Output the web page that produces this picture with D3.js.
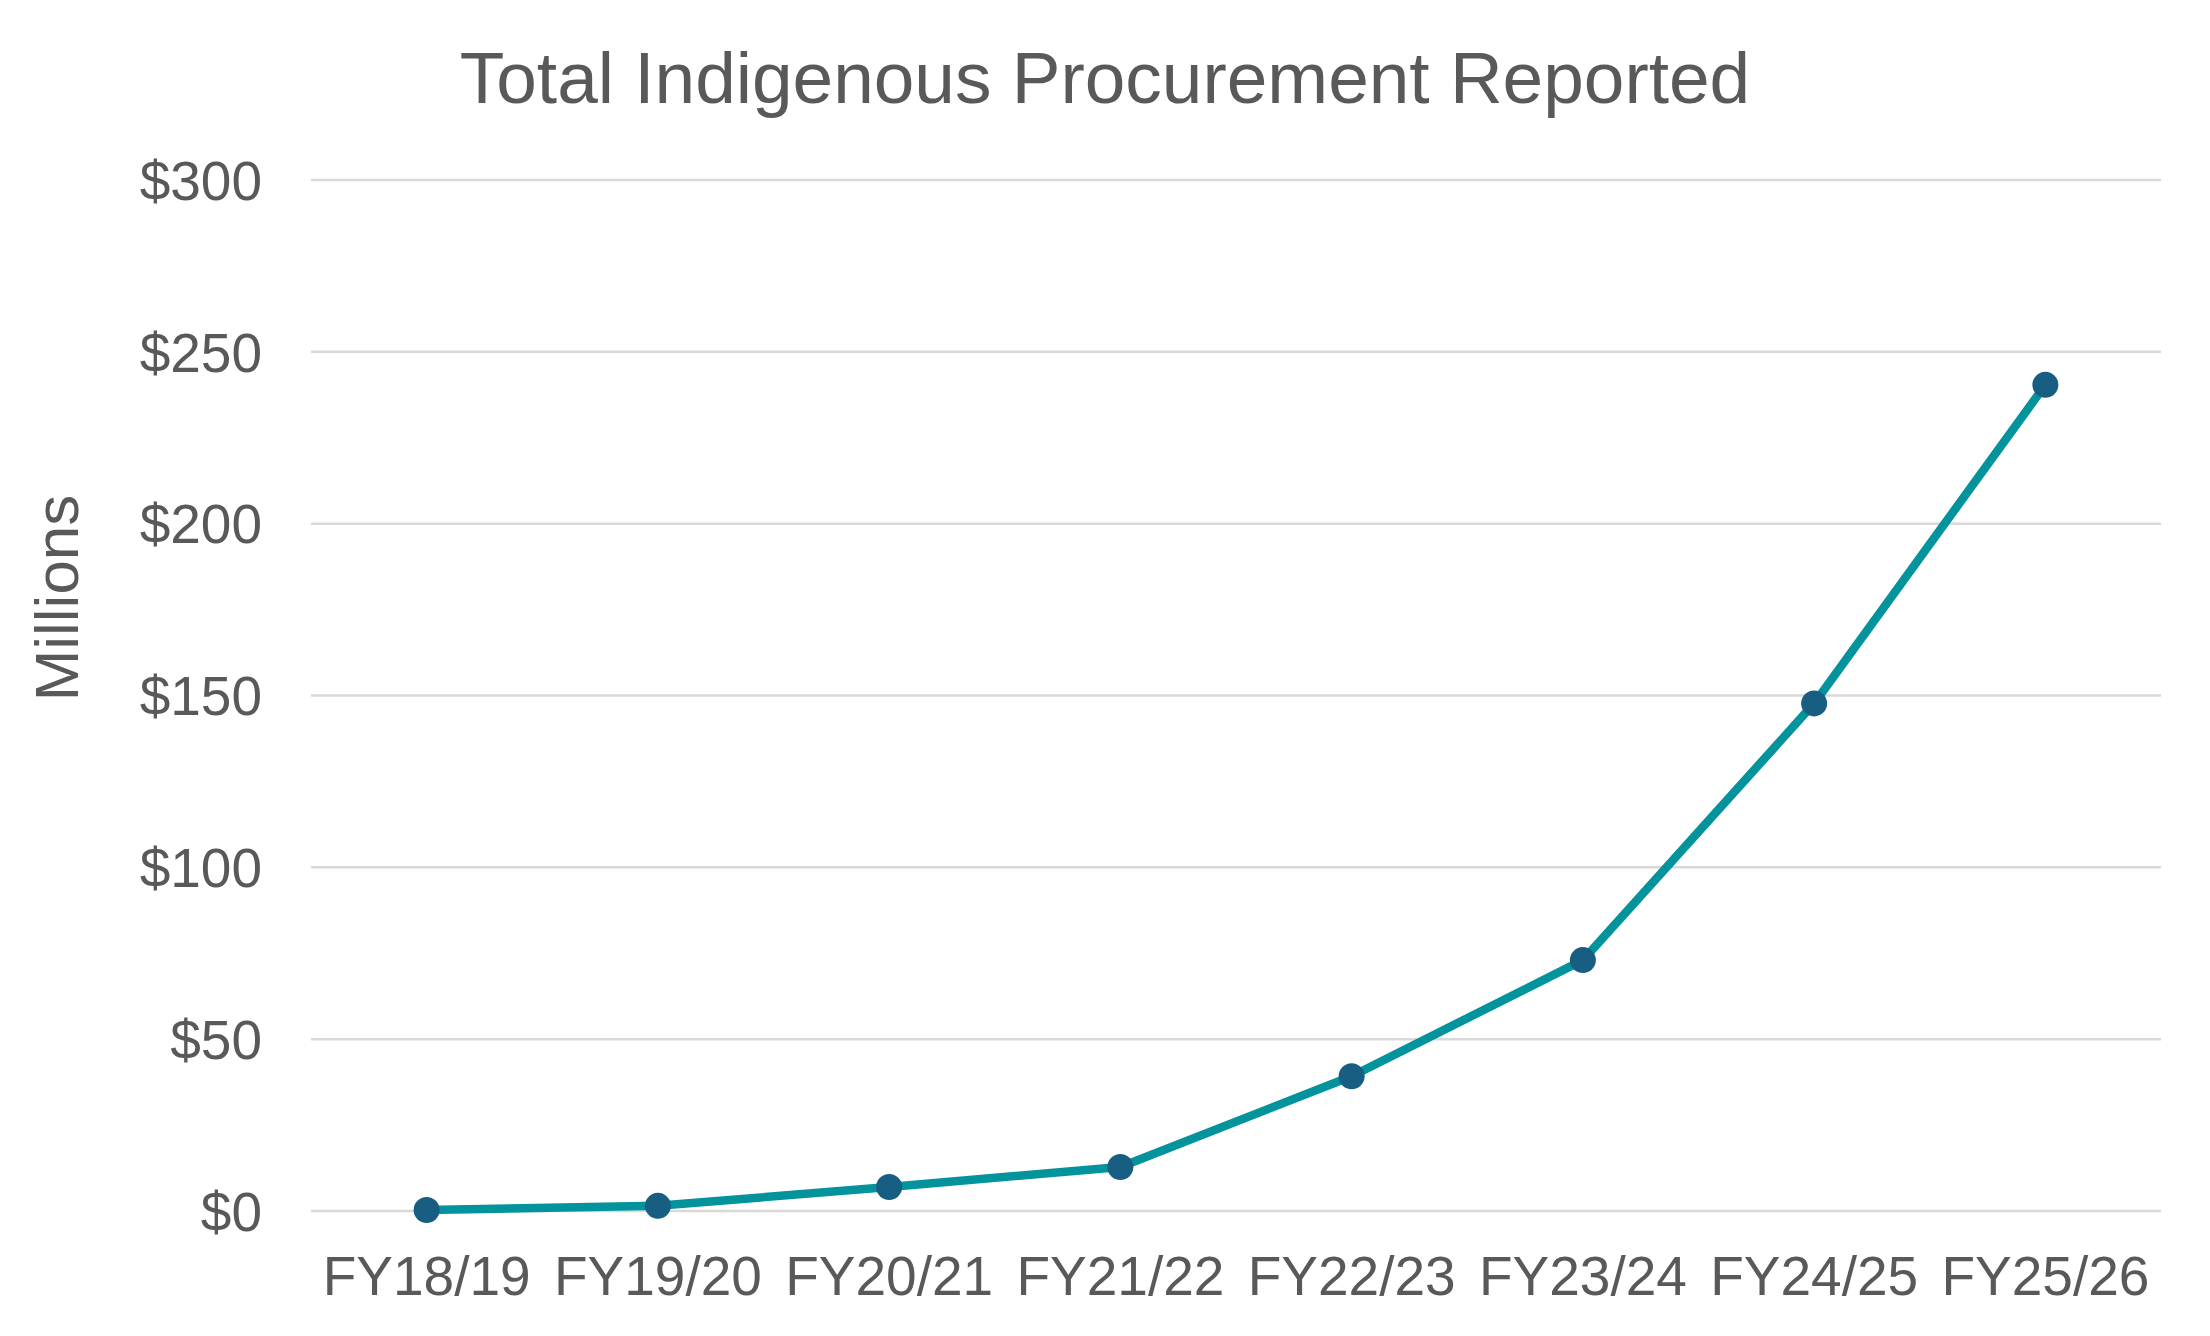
<!DOCTYPE html>
<html>
<head>
<meta charset="utf-8">
<script src="https://cdn.jsdelivr.net/npm/d3@7"></script>
<style>
  html, body { margin: 0; padding: 0; background: #ffffff; }
  svg { display: block; }
  text { font-family: "Liberation Sans", Arial, sans-serif; fill: #595959; }
</style>
</head>
<body>
<svg id="chart" width="2210" height="1336"></svg>
<script>
const categories = ["FY18/19", "FY19/20", "FY20/21", "FY21/22", "FY22/23", "FY23/24", "FY24/25", "FY25/26"];
const values = [0.3, 1.5, 7, 12.8, 39.2, 73, 147.7, 240.4];
const yTicks = [0, 50, 100, 150, 200, 250, 300];
const titleText = "Total Indigenous Procurement Reported";
const yAxisTitle = "Millions";

const W = 2210, H = 1336;
const margin = { left: 311, right: 49, top: 180, bottom: 125 };
const svg = d3.select("#chart");

const x = d3.scaleBand().domain(categories).range([margin.left, W - margin.right]);
const y = d3.scaleLinear().domain([0, 300]).range([H - margin.bottom, margin.top]);

// gridlines
svg.append("g")
  .selectAll("line")
  .data(yTicks)
  .join("line")
  .attr("x1", margin.left)
  .attr("x2", W - margin.right)
  .attr("y1", d => y(d))
  .attr("y2", d => y(d))
  .attr("stroke", "#d9d9d9")
  .attr("stroke-width", 2.5);

// y axis
const yAxis = svg.append("g")
  .attr("transform", `translate(${margin.left - 49},0)`)
  .call(d3.axisLeft(y).tickValues(yTicks).tickSize(0).tickPadding(0).tickFormat(d => "$" + d));
yAxis.select(".domain").remove();
yAxis.selectAll("text")
  .attr("font-size", 55)
  .attr("dy", "0.35em")
  .style("fill", "#595959")
  .style("font-family", '"Liberation Sans", Arial, sans-serif');

// x axis
const xAxis = svg.append("g")
  .attr("transform", `translate(0,${H - margin.bottom})`)
  .call(d3.axisBottom(x).tickSize(0).tickPadding(0));
xAxis.select(".domain").remove();
xAxis.selectAll("text")
  .attr("font-size", 55)
  .attr("y", 84)
  .attr("dy", 0)
  .style("fill", "#595959")
  .style("font-family", '"Liberation Sans", Arial, sans-serif');

// line
const cx = d => x(d) + x.bandwidth() / 2;
const line = d3.line()
  .x((d, i) => cx(categories[i]))
  .y(d => y(d));
svg.append("path")
  .datum(values)
  .attr("d", line)
  .attr("fill", "none")
  .attr("stroke", "#03939C")
  .attr("stroke-width", 8.5)
  .attr("stroke-linejoin", "round");

// markers
svg.append("g")
  .selectAll("circle")
  .data(values)
  .join("circle")
  .attr("cx", (d, i) => cx(categories[i]))
  .attr("cy", d => y(d))
  .attr("r", 13)
  .attr("fill", "#175E82");

// title
svg.append("text")
  .attr("x", W / 2)
  .attr("y", 103)
  .attr("text-anchor", "middle")
  .attr("font-size", 73)
  .text(titleText);

// y axis title
svg.append("text")
  .attr("transform", "translate(78,598) rotate(-90)")
  .attr("text-anchor", "middle")
  .attr("font-size", 62)
  .text(yAxisTitle);
</script>
</body>
</html>
